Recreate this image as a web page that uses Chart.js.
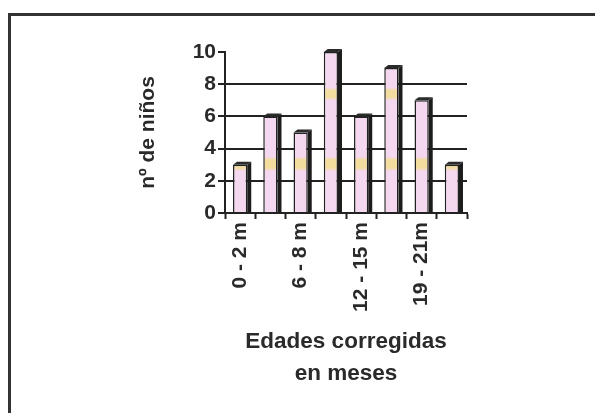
<!DOCTYPE html>
<html>
<head>
<meta charset="utf-8">
<script src="https://cdn.jsdelivr.net/npm/chart.js@4.4.1/dist/chart.umd.min.js"></script>
<style>
    body { margin: 0; background: #ffffff; overflow: hidden; }
    #frame { position: absolute; left: 8px; top: 13px; width: 700px; height: 500px; border: 3px solid #333333; }
    #wrap { position: absolute; left: 0; top: 0; width: 595px; height: 413px; }
</style>
</head>
<body>
<div id="frame"></div>
<div id="wrap"><canvas id="myChart" width="595" height="413"></canvas></div>
<script>
// datos
var tickLabels = ['0 - 2 m', '', '6 - 8 m', '', '12 - 15 m', '', '19 - 21m', ''];
var ninos = [3, 6, 5, 10, 6, 9, 7, 3];
var yTicks = [0, 2, 4, 6, 8, 10];

var textColor = '#2a2a2a';
var lineColor = '#222222';
var pink = '#f3d8ef';
var yellow = '#f2dc9e';

// relleno rosa con franjas amarillas (textura del original)
function barFill(context) {
    const chart = context.chart;
    const y = chart.scales.y;
    if (!chart.chartArea || !y) return pink;
    const y0 = y.getPixelForValue(0);
    const y1 = y.getPixelForValue(10);
    const g = chart.ctx.createLinearGradient(0, y0, 0, y1);
    g.addColorStop(0, pink);
    g.addColorStop(0.26, pink);
    g.addColorStop(0.28, yellow);
    g.addColorStop(0.33, yellow);
    g.addColorStop(0.35, pink);
    g.addColorStop(0.70, pink);
    g.addColorStop(0.72, yellow);
    g.addColorStop(0.76, yellow);
    g.addColorStop(0.78, pink);
    g.addColorStop(1, pink);
    return g;
}

// efecto 3D: lado derecho y tapa oscuros
const bars3d = {
    id: 'bars3d',
    afterDatasetsDraw(chart) {
        const ctx = chart.ctx;
        const meta = chart.getDatasetMeta(0);
        const dx = 4, dy = 3;
        ctx.save();
        meta.data.forEach(bar => {
            const p = bar.getProps(['x', 'y', 'base', 'width'], true);
            const left = p.x - p.width / 2;
            const right = p.x + p.width / 2;
            ctx.fillStyle = '#1c1c1c';
            ctx.beginPath();
            ctx.moveTo(right, p.y);
            ctx.lineTo(right + dx, p.y - dy);
            ctx.lineTo(right + dx, p.base);
            ctx.lineTo(right, p.base);
            ctx.closePath();
            ctx.fill();
            ctx.fillStyle = '#2a2a2a';
            ctx.beginPath();
            ctx.moveTo(left, p.y);
            ctx.lineTo(left + dx, p.y - dy);
            ctx.lineTo(right + dx, p.y - dy);
            ctx.lineTo(right, p.y);
            ctx.closePath();
            ctx.fill();
        });
        ctx.restore();
    }
};

const myChart = new Chart(document.getElementById('myChart'), {
    type: 'bar',
    data: {
        labels: tickLabels,
        datasets: [{
            label: 'nº de niños',
            data: ninos,
            backgroundColor: barFill,
            borderColor: lineColor,
            borderWidth: 1.5,
            barPercentage: 0.47,
            categoryPercentage: 1,
            clip: false
        }]
    },
    options: {
        responsive: false,
        animation: false,
        layout: { padding: { left: 0, top: 52, right: 128, bottom: 0 } },
        plugins: {
            legend: { display: false },
            tooltip: { enabled: false }
        },
        scales: {
            x: {
                afterFit: function (scale) { scale.height = 200; },
                grid: {
                    offset: true,
                    drawOnChartArea: false,
                    drawTicks: true,
                    tickLength: 6,
                    tickColor: lineColor,
                    tickWidth: 2
                },
                border: { display: true, color: lineColor, width: 2 },
                ticks: {
                    autoSkip: false,
                    maxRotation: 90,
                    minRotation: 90,
                    padding: 3,
                    color: textColor,
                    font: { family: 'Liberation Sans, Arial, sans-serif', size: 21, weight: 'bold' }
                },
                title: {
                    display: true,
                    text: ['Edades corregidas', 'en meses'],
                    color: textColor,
                    padding: { top: 0, bottom: 23 },
                    font: { family: 'Liberation Sans, Arial, sans-serif', size: 22.5, weight: 'bold', lineHeight: 1.42 }
                }
            },
            y: {
                min: 0,
                max: 10,
                afterFit: function (scale) { scale.width = 225; },
                afterBuildTicks: function (scale) { scale.ticks = yTicks.map(v => ({ value: v })); },
                grid: {
                    color: function (c) {
                        return (c.tick && (c.tick.value === 0 || c.tick.value === 10)) ? 'rgba(0,0,0,0)' : lineColor;
                    },
                    lineWidth: 2,
                    tickLength: 7,
                    tickColor: lineColor,
                    tickWidth: 2
                },
                border: { display: true, color: lineColor, width: 2 },
                ticks: {
                    padding: 2,
                    color: textColor,
                    font: { family: 'Liberation Sans, Arial, sans-serif', size: 21, weight: 'bold' }
                },
                title: {
                    display: true,
                    text: 'nº de niños',
                    color: textColor,
                    padding: { top: 136, bottom: 0 },
                    font: { family: 'Liberation Sans, Arial, sans-serif', size: 21, weight: 'bold' }
                }
            }
        }
    },
    plugins: [bars3d]
});
</script>
</body>
</html>
